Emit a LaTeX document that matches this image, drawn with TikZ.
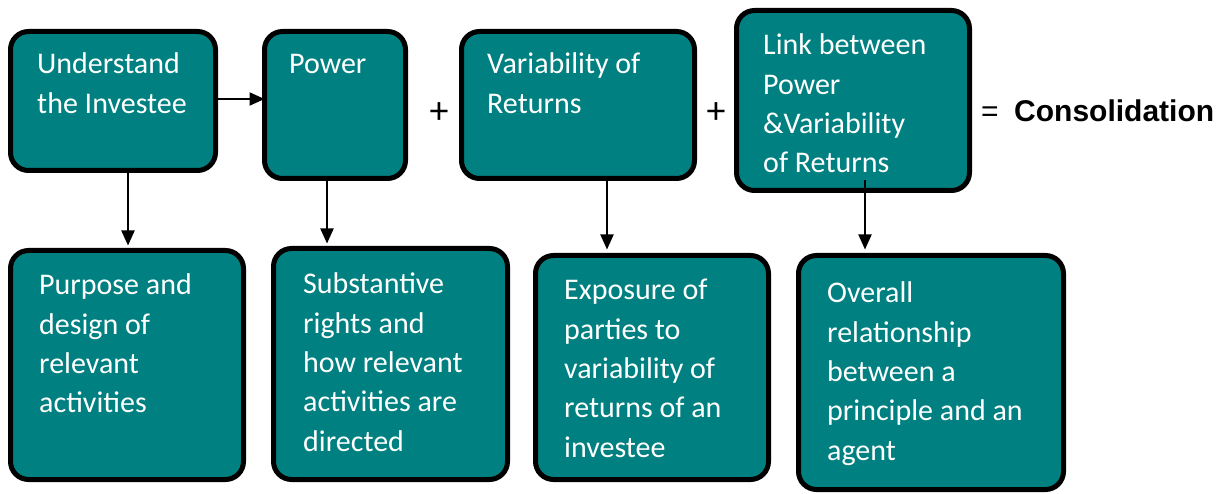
\documentclass[tikz,border=0pt]{standalone}
\usepackage{fontspec}
\setmainfont{Carlito}
\newfontfamily\consfont{Liberation Sans}
\usetikzlibrary{arrows.meta}
\definecolor{teal1}{HTML}{008080}
\tikzset{
  box/.style={draw=black, line width=5pt, fill=teal1, rounded corners=18pt,
    inner sep=0pt, outer sep=0pt, anchor=north west},
  txt/.style={text=white, font=\fontsize{30}{39.3}\selectfont,
    inner sep=0pt, anchor=base west},
  arr/.style={line width=2pt, -{Triangle[length=15pt,width=13pt]}},
  op/.style={font=\fontsize{38}{40}\selectfont, inner sep=0pt},
}
\newcommand\lns[1]{\vtop{\halign{##\hfil\cr#1\crcr}}}
\begin{document}
\begin{tikzpicture}[x=1pt,y=-1pt]
\useasboundingbox (0,0) rectangle (1224,494);
% top row boxes
\node[box, minimum width=205pt, minimum height=139pt] (b1) at (10.5,31.5) {};
\node[box, minimum width=141pt, minimum height=147pt] (b2) at (264.5,31.5) {};
\node[box, minimum width=233pt, minimum height=147pt] (b3) at (461.5,31.5) {};
\node[box, minimum width=233pt, minimum height=180pt] (b4) at (736.5,10.5) {};
% bottom row boxes
\node[box, minimum width=233pt, minimum height=229pt] (b5) at (10.5,250.5) {};
\node[box, minimum width=234pt, minimum height=231pt] (b6) at (273.5,248.5) {};
\node[box, minimum width=233pt, minimum height=224pt] (b7) at (535.5,255.5) {};
\node[box, minimum width=265pt, minimum height=234pt] (b8) at (798.5,255.5) {};
% texts
\node[txt] (t1) at (37,74) {\lns{Understand\cr the Investee}};
\node[txt] (t2) at (289,74) {\lns{Power}};
\node[txt] (t3) at (487,74) {\lns{Variability of\cr Returns}};
\node[txt] (t4) at (763,55) {\lns{Link between\cr Power\cr \&Variability\cr of Returns}};
\node[txt] (t5) at (39,295) {\lns{Purpose and\cr design of\cr relevant\cr activities}};
\node[txt] (t6) at (303,294) {\lns{Substantive\cr rights and\cr how relevant\cr activities are\cr directed}};
\node[txt] (t7) at (564,300) {\lns{Exposure of\cr parties to\cr variability of\cr returns of an\cr investee}};
\node[txt] (t8) at (827,303) {\lns{Overall\cr relationship\cr between a\cr principle and an\cr agent}};
% operators
\node[op] (p1) at (439,113) {+};
\node[op] (p2) at (716,113) {+};
\node[inner sep=0pt, anchor=base west, font=\consfont\fontsize{30}{32}\selectfont] (eq) at (981,122) {=};
\node[inner sep=0pt, anchor=base west, font=\consfont\bfseries\fontsize{30}{32}\selectfont] (cons) at (1014,122) {Consolidation};
% connectors
\coordinate (h1) at (0,99);
\draw[arr] (b1.east |- h1) -- (b2.west |- h1);
\coordinate (c1) at (128,0);
\coordinate (c2) at (327,0);
\coordinate (c3) at (607,0);
\coordinate (a4) at (865,180);
\draw[arr, shorten >=5pt] (b1.south -| c1) -- (b5.north -| c1);
\draw[arr, shorten >=5pt] (b2.south -| c2) -- (b6.north -| c2);
\draw[arr, shorten >=6pt] (b3.south -| c3) -- (b7.north -| c3);
\draw[arr, shorten >=6pt] (a4) -- (b8.north -| a4);
\end{tikzpicture}
\end{document}
